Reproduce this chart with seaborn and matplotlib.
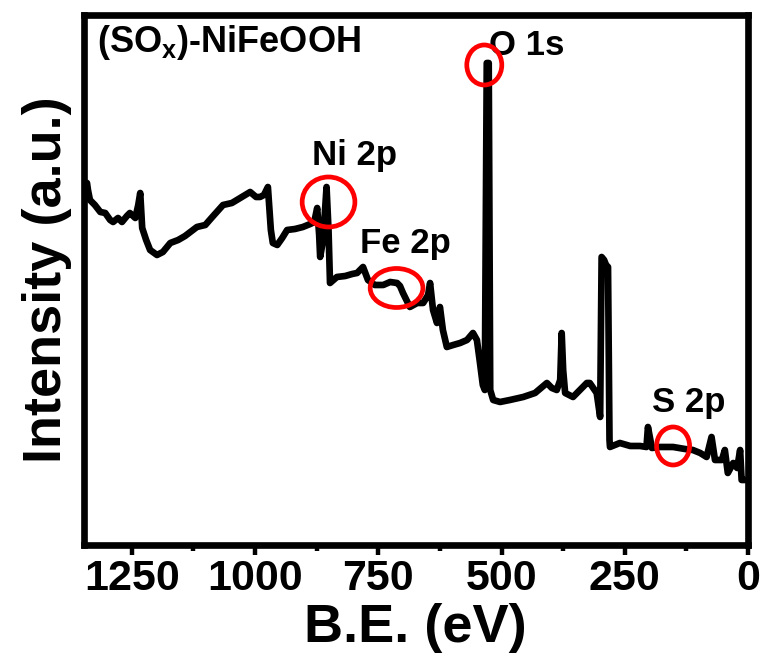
import matplotlib
matplotlib.use("Agg")
import matplotlib.pyplot as plt
from matplotlib import font_manager
from matplotlib.patches import Ellipse
import seaborn as sns
import pandas as pd

# ---- data ----
binding_energy = [1341, 1339, 1335, 1325, 1314, 1304, 1294, 1288, 1278, 1270,
                  1260, 1254, 1243, 1237, 1233, 1229, 1221, 1213, 1199, 1187,
                  1172, 1156, 1142, 1118, 1101, 1085, 1065, 1047, 1030, 1010,
                  998, 990, 982, 974, 968, 964, 955, 945, 935, 919,
                  903, 888, 880, 874, 870, 868, 862, 855, 851, 848,
                  834, 817, 803, 793, 781, 771, 757, 740, 726, 712,
                  706, 700, 686, 671, 659, 649, 645, 639, 631, 625,
                  619, 611, 598, 584, 570, 558, 550, 544, 538, 534,
                  530, 526, 523, 517, 503, 483, 456, 432, 408, 398,
                  388, 381, 378, 375, 371, 355, 341, 327, 321, 314,
                  307, 302, 300, 297, 292, 288, 284, 281, 280, 260,
                  239, 219, 206, 203, 195, 179, 152, 128, 112, 97,
                  84, 74, 67, 53, 47, 41, 30, 22, 16, 13, 6]
intensity = [365, 358, 348, 343, 336, 335, 328, 326, 330, 326,
             332, 335, 330, 343, 355, 320, 308, 298, 293, 296,
             305, 308, 312, 321, 323, 332, 343, 345, 350, 356,
             351, 351, 353, 361, 318, 305, 303, 310, 318, 319,
             321, 324, 326, 340, 313, 291, 308, 361, 318, 265,
             271, 272, 274, 275, 281, 268, 263, 263, 266, 265,
             262, 255, 241, 245, 245, 253, 265, 238, 225, 241,
             218, 201, 203, 205, 208, 215, 208, 186, 163, 158,
             485, 485, 158, 148, 146, 148, 151, 155, 165, 160,
             158, 168, 215, 178, 155, 151, 158, 165, 165, 160,
             155, 138, 131, 291, 288, 283, 281, 108, 101, 105,
             102, 102, 101, 121, 100, 101, 101, 99, 98, 95,
             91, 111, 88, 88, 98, 75, 85, 80, 98, 68, 68]

peak_names = ["Ni 2p", "Fe 2p", "O 1s", "S 2p"]
peak_energy = [851, 713, 535, 152]
peak_level = [346, 260, 483, 102]

sample_label = "(SO$_{x}$)-NiFeOOH"
x_ticks = [1250, 1000, 750, 500, 250, 0]

# ---- style ----
sns.set_style("ticks")
plt.rcParams["font.family"] = ["Liberation Sans", "DejaVu Sans"]
plt.rcParams["font.weight"] = "bold"
plt.rcParams["text.color"] = "black"
plt.rcParams["axes.labelcolor"] = "black"
plt.rcParams["axes.edgecolor"] = "black"
plt.rcParams["xtick.color"] = "black"
plt.rcParams["ytick.color"] = "black"
plt.rcParams["mathtext.fontset"] = "custom"
plt.rcParams["mathtext.rm"] = "Liberation Sans:bold"
plt.rcParams["mathtext.it"] = "Liberation Sans:bold"
plt.rcParams["mathtext.bf"] = "Liberation Sans:bold"

try:
    font_manager.findfont(font_manager.FontProperties(family="Liberation Sans Narrow", weight="bold"),
                          fallback_to_default=False)
    tick_family = "Liberation Sans Narrow"
    tick_size = 34
except Exception:
    tick_family = "Liberation Sans"
    tick_size = 31

fig = plt.figure(figsize=(7.65, 6.66), dpi=100)
ax = fig.add_axes([0.1092, 0.1817, 0.8686, 0.7958])

df = pd.DataFrame({"BE": binding_energy, "I": intensity})
sns.lineplot(data=df, x="BE", y="I", ax=ax, color="black", linewidth=4.8,
             sort=False, estimator=None, solid_joinstyle="round")

ax.set_xlim(1348, 0)
ax.set_ylim(3, 533)
ax.set_xticks(x_ticks)
ax.set_xticks([1125, 875, 625, 375, 125], minor=True)
ax.set_yticks([])
ax.tick_params(axis="x", which="major", direction="out", length=7, width=3.2, pad=3,
               colors="black")
ax.tick_params(axis="x", which="minor", direction="out", length=4, width=3.2, colors="black")
for lab in ax.get_xticklabels():
    lab.set_fontfamily(tick_family)
    lab.set_fontsize(tick_size)
    lab.set_fontweight("bold")
    lab.set_color("black")

for sp in ax.spines.values():
    sp.set_linewidth(4.8)
    sp.set_color("black")
    sp.set_visible(True)

ax.set_xlabel("B.E. (eV)", fontsize=39, fontweight="bold", labelpad=3, color="black")
ax.set_ylabel("Intensity (a.u.)", fontsize=39, fontweight="bold", labelpad=8, color="black")

# highlight rings
ring_w = [107, 107, 71, 67]
ring_h = [50, 39, 40, 38]
for e, lvl, w, h in zip(peak_energy, peak_level, ring_w, ring_h):
    ax.add_patch(Ellipse((e, lvl), w, h, fill=False, edgecolor="#ff0000", linewidth=3.4, zorder=5))

# peak labels
label_x = [798, 696, 448, 120]
label_y = [383, 295, 493, 136]
for name, lx, ly in zip(peak_names, label_x, label_y):
    ax.text(lx, ly, name, fontsize=25, fontweight="bold", ha="center", va="baseline",
            color="black")

ax.text(0.02, 0.930, sample_label, transform=ax.transAxes, fontsize=26,
        fontweight="bold", ha="left", va="baseline", color="black")

fig.savefig("out.png", dpi=100)
